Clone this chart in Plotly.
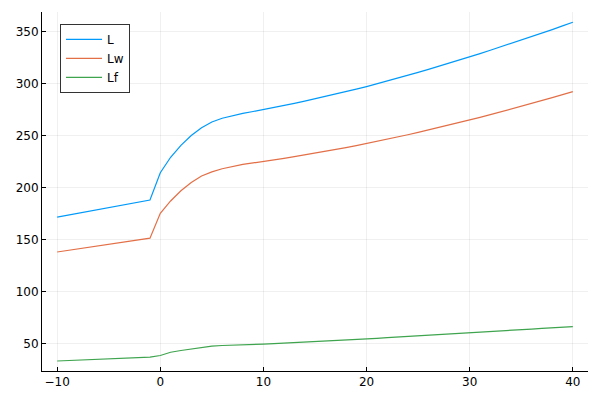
import plotly.graph_objects as go

x = list(range(-10, 41))

L = [172.0, 173.8, 175.6, 177.5, 179.3, 181.1, 183.0, 184.8, 186.6, 188.4,
     214.6, 229.5, 241.0, 250.5, 258.0, 263.5, 267.0, 269.5, 271.7, 273.5,
     275.3, 277.3, 279.3, 281.4, 283.5, 285.7, 287.9, 290.2, 292.5, 295.0,
     297.5, 300.1, 302.8, 305.5, 308.3, 311.1, 314.0, 316.9, 319.9, 323.0,
     326.1, 329.2, 332.4, 335.6, 338.9, 342.2, 345.5, 348.9, 352.3, 355.8,
     359.3]

Lw = [138.4, 139.9, 141.4, 142.8, 144.3, 145.8, 147.3, 148.8, 150.2, 151.7,
      175.7, 187.5, 197.3, 205.3, 211.5, 215.5, 218.5, 220.8, 222.6, 224.1,
      225.4, 226.9, 228.45, 230.05, 231.7, 233.4, 235.15, 236.95, 238.8, 240.7,
      242.65, 244.7, 246.8, 248.95, 251.15, 253.4, 255.7, 258.05, 260.45, 262.9,
      265.4, 267.9, 270.45, 273.05, 275.7, 278.4, 281.15, 283.95, 286.8, 289.7,
      292.65]

Lf = [33.6, 34.0, 34.4, 34.9, 35.3, 35.7, 36.1, 36.6, 37.0, 37.4,
      38.9, 42.0, 43.7, 45.2, 46.5, 48.0, 48.5, 48.7, 49.1, 49.4,
      49.9, 50.4, 50.85, 51.35, 51.8, 52.3, 52.75, 53.25, 53.7, 54.3,
      54.85, 55.4, 56.0, 56.55, 57.15, 57.7, 58.3, 58.85, 59.45, 60.1,
      60.7, 61.3, 61.95, 62.55, 63.2, 63.8, 64.35, 64.95, 65.5, 66.1,
      66.65]

x_ticks = [-10, 0, 10, 20, 30, 40]
y_ticks = [50, 100, 150, 200, 250, 300, 350]

series = [("L", L, "#009AFA"), ("Lw", Lw, "#E36F47"), ("Lf", Lf, "#3EA44E")]

fig = go.Figure()
for name, ys, col in series:
    fig.add_trace(go.Scatter(x=x, y=ys, mode="lines", name=name,
                             line=dict(color=col, width=1.2)))

axis_common = dict(
    showline=True, linecolor="black", linewidth=1, mirror=False,
    ticks="inside", ticklen=4, tickcolor="black", tickwidth=1,
    showgrid=True, gridcolor="rgba(0,0,0,0.06)", gridwidth=1,
    zeroline=False, automargin=False,
    tickfont=dict(family="DejaVu Sans", size=12, color="black"),
)

# page body adds an 8px offset, so margins are reduced by 8 on left/top
fig.update_layout(
    width=600, height=400,
    margin=dict(l=34, r=20, t=4, b=37),
    plot_bgcolor="white", paper_bgcolor="white",
    xaxis=dict(range=[-11.47, 41.47], tickvals=x_ticks, **axis_common),
    yaxis=dict(range=[24.0, 369.2], tickvals=y_ticks, **axis_common),
    legend=dict(x=0.033, y=0.967, xanchor="left", yanchor="top",
                bgcolor="white", bordercolor="#333", borderwidth=1,
                font=dict(family="DejaVu Sans", size=12, color="black"),
                tracegroupgap=0, itemwidth=36),
    showlegend=True,
)

fig.write_html("out.html")
